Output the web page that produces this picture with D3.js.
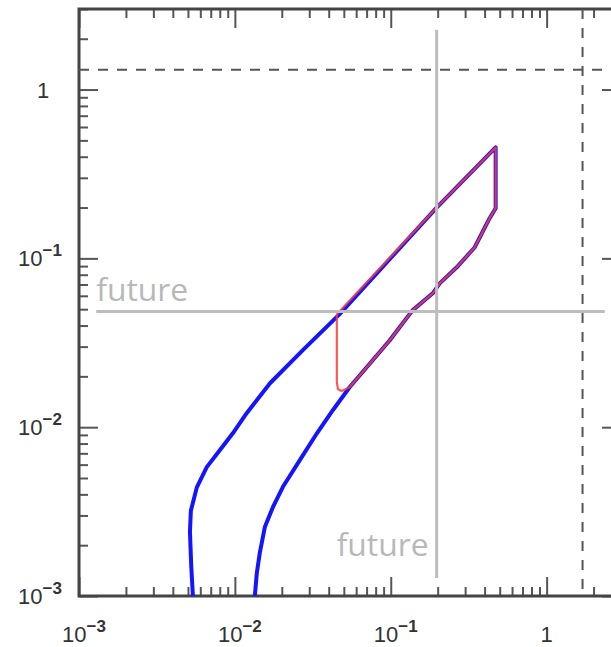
<!DOCTYPE html>
<html>
<head>
<meta charset="utf-8">
<script src="https://cdn.jsdelivr.net/npm/d3@7"></script>
<style>
  body { margin: 0; background: #fff; }
  svg { display: block; }
</style>
</head>
<body>
<svg id="chart" width="611" height="647"></svg>
<script>
// Blue track (left branch up, top corner, lower branch down)
const blueX = [0.00538, 0.00525, 0.00515, 0.00522, 0.0057, 0.0066, 0.008, 0.0097, 0.0119, 0.0168, 0.0273, 0.047, 0.197, 0.471,
  0.471, 0.431, 0.345, 0.265, 0.206, 0.186, 0.138, 0.114, 0.0986, 0.0546, 0.0425, 0.0336, 0.0261, 0.0203, 0.01754, 0.01557, 0.01445, 0.01383, 0.01343];
const blueY = [0.001, 0.0015, 0.0024, 0.0032, 0.0044, 0.0058, 0.0073, 0.0092, 0.0121, 0.0182, 0.0286, 0.0467, 0.2, 0.454,
  0.198, 0.173, 0.116, 0.0885, 0.0711, 0.0621, 0.0492, 0.0391, 0.0327, 0.0173, 0.0126, 0.0092, 0.00638, 0.00442, 0.00336, 0.00256, 0.0018, 0.00137, 0.001];

// Red closed loop
const redX = [0.0451, 0.197, 0.471, 0.471, 0.431, 0.345, 0.265, 0.206, 0.186, 0.138, 0.114, 0.0986, 0.0546, 0.0485, 0.0458, 0.0451, 0.0451];
const redY = [0.0467, 0.2, 0.454, 0.198, 0.173, 0.116, 0.0885, 0.0711, 0.0621, 0.0492, 0.0391, 0.0327, 0.0173, 0.0164, 0.0168, 0.0185, 0.0467];

// Reference lines
const futureX = 0.197;
const futureY = 0.0485;
const dashX = 1.7;
const dashY = 1.31;

// Tick labels
const xLabels = [{ v: 0.001, e: "−3" }, { v: 0.01, e: "−2" }, { v: 0.1, e: "−1" }, { v: 1, e: null }];
const yLabels = [{ v: 0.001, e: "−3" }, { v: 0.01, e: "−2" }, { v: 0.1, e: "−1" }, { v: 1, e: null }];

const svg = d3.select("#chart");
const mLeft = 79, mRight = 621, mTop = 9, mBottom = 596;

const x = d3.scaleLog().domain([1e-3, 3]).range([mLeft, mRight]);
const y = d3.scaleLog().domain([1e-3, 3]).range([mBottom, mTop]);

// major and minor tick values
const majors = [1e-3, 1e-2, 1e-1, 1];
const minors = [];
majors.forEach((d) => {
  for (let k = 2; k <= 9; k++) if (d * k <= 3) minors.push(d * k);
});

const tickColor = "#555";
const drawAxis = (axis, tx, ty) => {
  const g = svg.append("g").attr("transform", `translate(${tx},${ty})`).call(axis);
  g.select(".domain").remove();
  g.selectAll("line").attr("stroke", tickColor).attr("stroke-width", 2);
  g.selectAll("text").remove();
};

// ticks point inward on all four sides
drawAxis(d3.axisBottom(x).tickValues(majors).tickSize(-19), 0, mBottom);
drawAxis(d3.axisBottom(x).tickValues(minors).tickSize(-9), 0, mBottom);
drawAxis(d3.axisTop(x).tickValues(majors).tickSize(-19), 0, mTop);
drawAxis(d3.axisTop(x).tickValues(minors).tickSize(-9), 0, mTop);
drawAxis(d3.axisLeft(y).tickValues(majors).tickSize(-19), mLeft, 0);
drawAxis(d3.axisLeft(y).tickValues(minors).tickSize(-9), mLeft, 0);
drawAxis(d3.axisRight(y).tickValues(majors).tickSize(-19), mRight, 0);
drawAxis(d3.axisRight(y).tickValues(minors).tickSize(-9), mRight, 0);

// frame
svg.append("rect")
  .attr("x", mLeft).attr("y", mTop)
  .attr("width", mRight - mLeft).attr("height", mBottom - mTop)
  .attr("fill", "none").attr("stroke", "#444").attr("stroke-width", 3);

// dashed reference lines
svg.append("line")
  .attr("x1", mLeft).attr("x2", mRight)
  .attr("y1", y(dashY)).attr("y2", y(dashY))
  .attr("stroke", "#555").attr("stroke-width", 2).attr("stroke-dasharray", "10,9");
svg.append("line")
  .attr("x1", x(dashX)).attr("x2", x(dashX))
  .attr("y1", mTop).attr("y2", mBottom)
  .attr("stroke", "#555").attr("stroke-width", 2).attr("stroke-dasharray", "10,9");

// data curves
const line = d3.line().x((d) => x(d[0])).y((d) => y(d[1]));
const bluePts = blueX.map((v, i) => [v, blueY[i]]);
const redPts = redX.map((v, i) => [v, redY[i]]);

svg.append("path").datum(bluePts).attr("d", line)
  .attr("fill", "none").attr("stroke", "#1414ff").attr("stroke-width", 4)
  .attr("stroke-linejoin", "round").attr("stroke-linecap", "butt");
svg.append("path").datum(redPts).attr("d", line)
  .attr("fill", "none").attr("stroke", "#ff3a3a").attr("stroke-width", 2.2)
  .attr("stroke-linejoin", "round").attr("stroke-opacity", 0.85);

// "future" lines and labels
svg.append("line")
  .attr("x1", x(0.00129)).attr("x2", x(2.36))
  .attr("y1", y(futureY)).attr("y2", y(futureY))
  .attr("stroke", "#bdbdbd").attr("stroke-width", 3);
svg.append("line")
  .attr("x1", x(futureX)).attr("x2", x(futureX))
  .attr("y1", y(2.26)).attr("y2", y(0.00128))
  .attr("stroke", "#bdbdbd").attr("stroke-width", 3);

const futureStyle = (t) => t
  .attr("font-family", "'Open Sans', 'Noto Sans', sans-serif")
  .attr("font-size", 31)
  .attr("fill", "#b8b8b8")
  .attr("textLength", 92)
  .attr("lengthAdjust", "spacingAndGlyphs")
  .text("future");
svg.append("text").attr("x", x(0.00129)).attr("y", y(futureY) - 10).call(futureStyle);
svg.append("text").attr("x", x(futureX) - 100).attr("y", 556).call(futureStyle);

// tick labels with superscript exponents
const labelFont = "'Liberation Sans', Arial, sans-serif";
const addLabel = (d, lx, ly) => {
  const t = svg.append("text")
    .attr("x", lx).attr("y", ly)
    .attr("text-anchor", "middle")
    .attr("font-family", labelFont)
    .attr("font-size", 22)
    .attr("fill", "#333");
  if (d.e) {
    t.append("tspan").text("10");
    t.append("tspan").attr("dy", -10).attr("font-size", 17).attr("font-weight", "bold").text(d.e);
  } else {
    t.text("1");
  }
};
xLabels.forEach((d) => addLabel(d, x(d.v) + (d.e ? 5 : 0), 642));
yLabels.forEach((d) => addLabel(d, d.e ? 40 : 43, y(d.v) + 8));
</script>
</body>
</html>
